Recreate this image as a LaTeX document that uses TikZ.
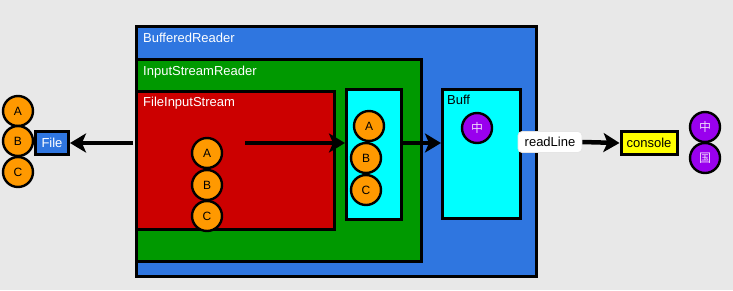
\documentclass[tikz,border=0pt]{standalone}
\usepackage{fontspec}
\setmainfont{Liberation Sans}
\newfontfamily\cjk{Noto Sans CJK SC}
\usetikzlibrary{arrows.meta}
\definecolor{bgc}{HTML}{E8E8E8}
\definecolor{bblue}{HTML}{2F76E0}
\definecolor{bgreen}{HTML}{009900}
\definecolor{bred}{HTML}{CC0000}
\definecolor{borange}{HTML}{FF9900}
\definecolor{bpurple}{HTML}{9900EE}
\definecolor{byellow}{HTML}{FFFF00}
\definecolor{bcyan}{HTML}{00FFFF}
\tikzset{
  box/.style={draw=black, line width=3pt, anchor=north west, inner sep=0pt},
  boxlabel/.style={anchor=north west, inner sep=0pt, font=\fontsize{13}{15}\selectfont},
  ball/.style={circle, draw=black, line width=2.4pt, fill=borange, minimum size=30pt, inner sep=0pt, font=\fontsize{12}{13}\selectfont},
  pball/.style={circle, draw=black, line width=2.4pt, fill=bpurple, minimum size=30pt, inner sep=0pt, text=white!85!bpurple, font=\cjk\fontsize{12}{13}\selectfont},
  conn/.style={line width=4.5pt, -{Stealth[length=16pt,width=19pt,inset=4pt]}},
}
\begin{document}
\begin{tikzpicture}[x=1pt,y=-1pt]
\fill[bgc] (0,0) rectangle (733,290);
\useasboundingbox (0,0) rectangle (733,290);
% containers
\node[box, fill=bblue, minimum width=400pt, minimum height=250pt] (br) at (135,25) {};
\node[boxlabel, text=white] (brl) at (143,33) {BufferedReader};
\node[box, fill=bgreen, minimum width=285pt, minimum height=202pt] (isr) at (135,58) {};
\node[boxlabel, text=white] (isrl) at (143,66) {InputStreamReader};
\node[box, fill=bred, minimum width=198pt, minimum height=138pt] (fis) at (135,90) {};
\node[boxlabel, text=white] (fisl) at (143,97) {FileInputStream};
\node[box, fill=bcyan, minimum width=55pt, minimum height=130pt] (cb) at (345,88) {};
\node[box, fill=bcyan, minimum width=78pt, minimum height=129pt] (buff) at (441,88) {};
\node[boxlabel, text=black] (buffl) at (447,95) {Buff};
% balls in FileInputStream
\node[ball] (fa) at (207,153) {A};
\node[ball] (fb) at (207,185) {B};
\node[ball] (fc) at (207,216) {C};
% balls in cyan box
\node[ball] (ca) at (369,126) {A};
\node[ball] (cbb) at (366,158) {B};
\node[ball] (cc) at (366,190) {C};
% buff ball
\node[pball] (bz) at (477,128) {中};
% left balls
\node[ball] (la) at (18,111) {A};
\node[ball] (lb) at (18,141) {B};
\node[ball] (lc) at (18,172) {C};
\node[draw=black, line width=3pt, fill=bblue, text=white, minimum width=33pt, minimum height=23pt, inner sep=0pt, font=\fontsize{13}{15}\selectfont] (file) at (52,143) {File};
% readLine and console
\node[draw=white!80!gray, line width=0.8pt, fill=white, rounded corners=4pt, minimum width=64pt, minimum height=21pt, inner sep=0pt, font=\fontsize{13}{15}\selectfont] (rl) at (550,142) {readLine};
\node[draw=black, line width=3pt, fill=byellow, minimum width=56pt, minimum height=23pt, inner sep=0pt, font=\fontsize{13}{15}\selectfont] (con) at (649,143) {console};
\node[pball] (rz) at (705,127) {中};
\node[pball] (rg) at (705,158) {国};
% connectors
\coordinate (s1) at (133,143);
\coordinate (s2) at (245,143);
\coordinate (e2) at (cb.west |- s2);
\coordinate (s3) at (cb.east |- s2);
\coordinate (e3) at (buff.west |- s2);
\draw[conn] (s1) -- (file.east);
\draw[conn] (s2) -- (e2);
\draw[conn] (s3) -- (e3);
\draw[conn] (rl.east) -- (con.west);
\end{tikzpicture}
\end{document}
